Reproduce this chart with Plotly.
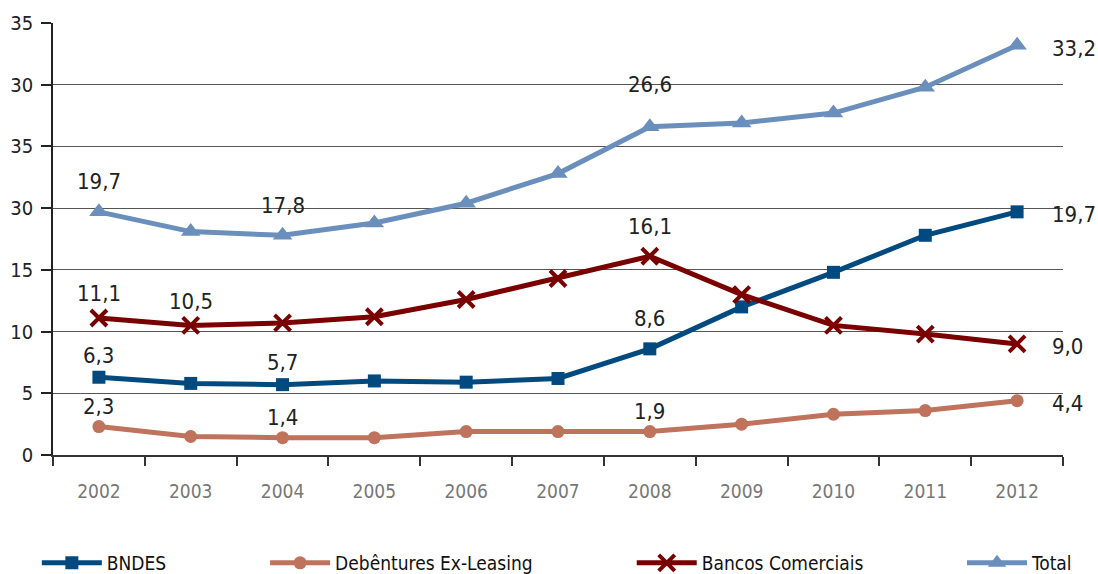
import plotly.graph_objects as go

years = ["2002", "2003", "2004", "2005", "2006", "2007", "2008", "2009", "2010", "2011", "2012"]
bndes = [6.3, 5.8, 5.7, 6.0, 5.9, 6.2, 8.6, 12.0, 14.8, 17.8, 19.7]
debentures = [2.3, 1.5, 1.4, 1.4, 1.9, 1.9, 1.9, 2.5, 3.3, 3.6, 4.4]
bancos = [11.1, 10.5, 10.7, 11.2, 12.6, 14.3, 16.1, 13.0, 10.5, 9.8, 9.0]
total = [19.7, 18.1, 17.8, 18.8, 20.4, 22.8, 26.6, 26.9, 27.7, 29.8, 33.2]

y_tickvals = [0, 5, 10, 15, 20, 25, 30, 35]
y_ticktext = ["0", "5", "10", "15", "30", "35", "30", "35"]

# which points carry a value label
labeled = {
    "BNDES": ["2002", "2004", "2008", "2012"],
    "Debêntures Ex-Leasing": ["2002", "2004", "2008", "2012"],
    "Bancos Comerciais": ["2002", "2003", "2008", "2012"],
    "Total": ["2002", "2004", "2008", "2012"],
}

FONT = "DejaVu Sans Condensed, Roboto, sans-serif"

series = [
    ("BNDES", bndes, "#004a80", dict(symbol="square", size=13), 22),
    ("Debêntures Ex-Leasing", debentures, "#bf725c", dict(symbol="circle", size=13), 20),
    ("Bancos Comerciais", bancos, "#7a0000", dict(symbol="x-thin", size=16, line=dict(width=4, color="#7a0000")), 24),
    ("Total", total, "#6b8fbd", dict(symbol="triangle-up", size=17), 30),
]

fig = go.Figure()
annotations = []
legend_x = [-0.016, 0.21, 0.573, 0.90]
for i, (name, vals, color, marker, yoff) in enumerate(series):
    lg = "legend" if i == 0 else f"legend{i+1}"
    fig.add_trace(go.Scatter(
        x=years, y=vals, name=name, mode="lines+markers",
        line=dict(color=color, width=5),
        marker=dict(color=color, **marker),
        legend=lg,
    ))
    for yr in labeled[name]:
        idx = years.index(yr)
        txt = f"{vals[idx]:.1f}".replace(".", ",")
        if yr == "2012":
            annotations.append(dict(x=idx, y=vals[idx], text=txt, showarrow=False,
                                    xanchor="left", yanchor="middle", xshift=33, yshift=-3,
                                    font=dict(family=FONT, size=22, color="#222")))
        else:
            extra = 12 if (name == "Total" and yr == "2008") else 0
            extra += 8 if (name == "BNDES" and yr == "2008") else 0
            extra += 6 if (name == "Bancos Comerciais" and yr == "2008") else 0
            annotations.append(dict(x=idx, y=vals[idx], text=txt, showarrow=False,
                                    xanchor="center", yanchor="middle", yshift=yoff + extra,
                                    font=dict(family=FONT, size=22, color="#222")))

layout_legends = {}
for i in range(4):
    key = "legend" if i == 0 else f"legend{i+1}"
    layout_legends[key] = dict(
        x=legend_x[i], y=-0.25, xref="paper", yref="paper",
        xanchor="left", yanchor="middle", orientation="h",
        bgcolor="rgba(0,0,0,0)", itemwidth=60,
        font=dict(family=FONT, size=19, color="#111"),
    )

fig.update_layout(
    width=1098, height=574,
    margin=dict(l=53, r=35, t=23, b=119, autoexpand=False),
    paper_bgcolor="white", plot_bgcolor="white",
    showlegend=True,
    annotations=annotations,
    font=dict(family=FONT),
    **layout_legends,
)
fig.update_xaxes(
    type="category", range=[-0.5, 10.5],
    showline=True, linecolor="#333", linewidth=1.5,
    ticks="outside", tickson="boundaries", ticklen=9, tickcolor="#333", tickwidth=1.5,
    tickfont=dict(family=FONT, size=19, color="#777"),
    ticklabelstandoff=18,
    showgrid=False,
)
fig.update_yaxes(
    range=[0, 35], tickvals=y_tickvals, ticktext=y_ticktext,
    showline=True, linecolor="#222", linewidth=1.5,
    ticks="outside", ticklen=10, tickcolor="#222", tickwidth=2,
    tickfont=dict(family=FONT, size=20, color="#222"),
    ticklabelstandoff=4,
    showgrid=True, gridcolor="#555", gridwidth=1,
    zeroline=False,
)
fig.write_html("out.html")
